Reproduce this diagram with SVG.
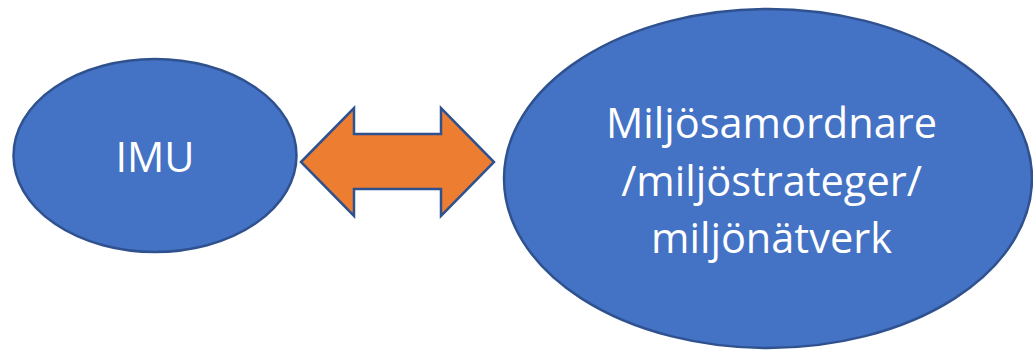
<svg xmlns="http://www.w3.org/2000/svg" width="1033" height="351" viewBox="0 0 1033 351">
<style>
.node{fill:#4472C4;stroke:#2F528F;stroke-width:2.5}
.lbl{fill:#FFFFFF;font-family:"Open Sans","Noto Sans",sans-serif;font-size:41.5px;text-anchor:middle}
.conn{fill:#ED7D31;stroke:#2F528F;stroke-width:2.5;stroke-linejoin:miter}
</style>
<rect width="1033" height="351" fill="#FFFFFF"/>
<g id="imu">
<ellipse class="node" cx="155" cy="155.5" rx="141.5" ry="96.5"/>
<text class="lbl" x="155" y="171.5">IMU</text>
</g>
<g id="miljo">
<ellipse class="node" cx="768" cy="178.5" rx="264" ry="169.5"/>
<text class="lbl" x="771.5" y="138">Miljösamordnare</text>
<text class="lbl" x="771.5" y="196">/miljöstrateger/</text>
<text class="lbl" x="771.5" y="253">miljönätverk</text>
</g>
<g id="connectors">
<path class="conn" d="M301,162 L354,108 L354,134 L441,134 L441,108 L494,162 L441,216 L441,189 L354,189 L354,216 Z"/>
</g>
</svg>
